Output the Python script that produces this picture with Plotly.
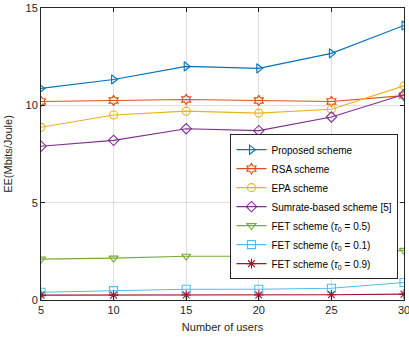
import plotly.graph_objects as go

users = [5, 10, 15, 20, 25, 30]
proposed = [10.87, 11.33, 12.0, 11.9, 12.67, 14.1]
rsa = [10.2, 10.25, 10.3, 10.25, 10.2, 10.5]
epa = [8.87, 9.5, 9.7, 9.6, 9.8, 11.0]
sumrate = [7.9, 8.2, 8.8, 8.7, 9.4, 10.56]
fet05 = [2.1, 2.15, 2.25, 2.25, 2.35, 2.55]
fet01 = [0.4, 0.48, 0.55, 0.55, 0.6, 0.9]
fet09 = [0.25, 0.25, 0.26, 0.26, 0.27, 0.3]

series = [
    ("Proposed scheme", proposed, "#0072BD", "triangle-right-open"),
    ("RSA scheme", rsa, "#D95319", "hexagram-open"),
    ("EPA scheme", epa, "#EDB120", "circle-open"),
    ("Sumrate-based scheme [5]", sumrate, "#7E2F8E", "diamond-open"),
    ("FET scheme (<i>τ</i><sub>0</sub> = 0.5)", fet05, "#77AC30", "triangle-down-open"),
    ("FET scheme (<i>τ</i><sub>0</sub> = 0.1)", fet01, "#4DBEEE", "square-open"),
    ("FET scheme (<i>τ</i><sub>0</sub> = 0.9)", fet09, "#A2142F", "asterisk-open"),
]

fig = go.Figure()
for name, ys, color, sym in series:
    fig.add_trace(go.Scatter(
        x=users, y=ys, name=name, mode="lines+markers",
        line=dict(color=color, width=1.1),
        marker=dict(symbol=sym, size=8, color=color, line=dict(color=color, width=1.1)),
    ))

axis_common = dict(
    showline=True, linecolor="#262626", linewidth=1, mirror="ticks",
    ticks="inside", ticklen=4, tickcolor="#262626",
    showgrid=True, gridcolor="#DFDFDF", gridwidth=1, zeroline=False,
    tickfont=dict(size=11, color="#262626"),
    ticklabeloverflow="allow",
)

fig.update_layout(
    width=409, height=341,
    margin=dict(l=41, r=5, t=8, b=41, autoexpand=False),
    paper_bgcolor="white", plot_bgcolor="white",
    font=dict(family="Liberation Sans, Arial, sans-serif", color="#262626"),
    xaxis=dict(range=[5, 30], tickvals=users, ticktext=[str(u) for u in users],
               title=dict(text="Number of users", font=dict(size=11), standoff=8), **axis_common),
    yaxis=dict(range=[0, 15], tickvals=[0, 5, 10, 15],
               title=dict(text="EE(Mbits/Joule)", font=dict(size=11), standoff=10), **axis_common),
    legend=dict(x=0.522, y=0.568, xanchor="left", yanchor="top",
                bgcolor="white", bordercolor="#262626", borderwidth=1,
                font=dict(size=10, color="#000000"), tracegroupgap=0,
                itemwidth=30),
    showlegend=True,
)

fig.write_html("out.html", config={"displayModeBar": False},
               post_script="document.body.style.margin='0';")
